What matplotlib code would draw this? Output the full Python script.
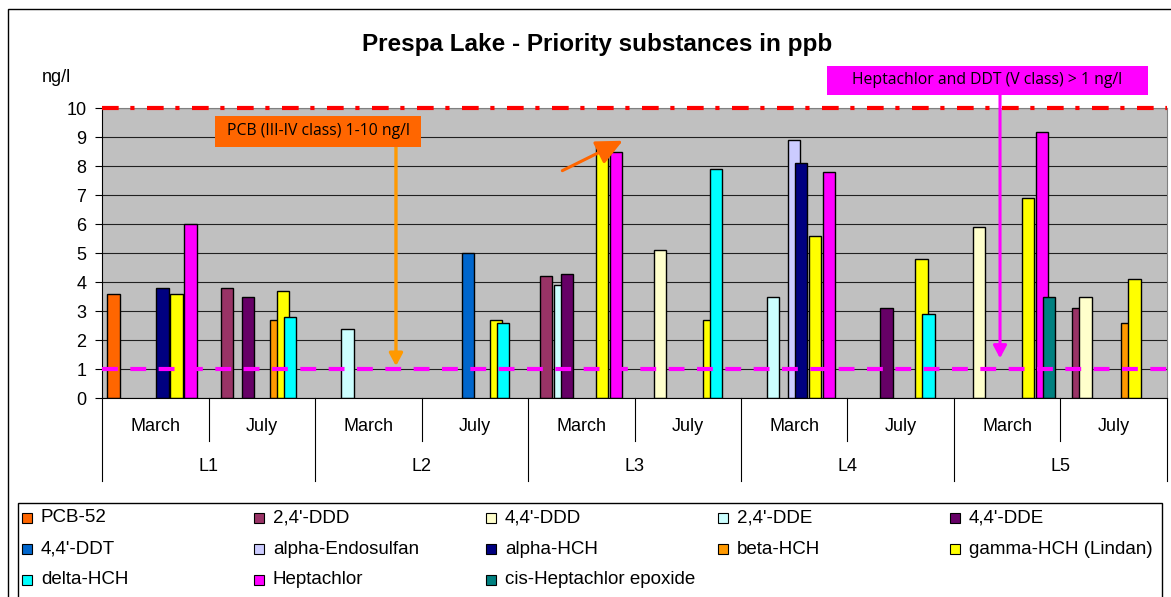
import numpy as np
import matplotlib
matplotlib.use('Agg')
import matplotlib.pyplot as plt
from matplotlib.patches import Rectangle

plt.rcParams['font.family'] = ['Liberation Sans', 'DejaVu Sans']

# figure size in pixels
W, H = 1171, 597

# categories
months = ['March', 'July'] * 5
sites = ['L1', 'L2', 'L3', 'L4', 'L5']

substances = ['PCB-52', "2,4'-DDD", "4,4'-DDD", "2,4'-DDE", "4,4'-DDE",
              "4,4'-DDT", 'alpha-Endosulfan', 'alpha-HCH', 'beta-HCH',
              'gamma-HCH (Lindan)', 'delta-HCH', 'Heptachlor',
              'cis-Heptachlor epoxide']
colors = ['#FF6600', '#993366', '#FFFFCC', '#CCFFFF', '#660066',
          '#0066CC', '#CCCCFF', '#000080', '#FF9900',
          '#FFFF00', '#00FFFF', '#FF00FF', '#008080']

# values in ng/l, 0 = not detected
#           L1M  L1J  L2M  L2J  L3M  L3J  L4M  L4J  L5M  L5J
pcb52     = [3.6, 0,   0,   0,   0,   0,   0,   0,   0,   0]
ddd24     = [0,   3.8, 0,   0,   4.2, 0,   0,   0,   0,   3.1]
ddd44     = [0,   0,   0,   0,   0,   5.1, 0,   0,   5.9, 3.5]
dde24     = [0,   0,   2.4, 0,   3.9, 0,   3.5, 0,   0,   0]
dde44     = [0,   3.5, 0,   0,   4.3, 0,   0,   3.1, 0,   0]
ddt44     = [0,   0,   0,   5.0, 0,   0,   0,   0,   0,   0]
endosulf  = [0,   0,   0,   0,   0,   0,   8.9, 0,   0,   0]
hch_alpha = [3.8, 0,   0,   0,   0,   0,   8.1, 0,   0,   0]
hch_beta  = [0,   2.7, 0,   0,   0,   0,   0,   0,   0,   2.6]
hch_gamma = [3.6, 3.7, 0,   2.7, 8.8, 2.7, 5.6, 4.8, 6.9, 4.1]
hch_delta = [0,   2.8, 0,   2.6, 0,   7.9, 0,   2.9, 0,   0]
heptachl  = [6.0, 0,   0,   0,   8.5, 0,   7.8, 0,   9.2, 0]
hept_epox = [0,   0,   0,   0,   0,   0,   0,   0,   3.5, 0]

values = [pcb52, ddd24, ddd44, dde24, dde44, ddt44, endosulf, hch_alpha,
          hch_beta, hch_gamma, hch_delta, heptachl, hept_epox]

# limits
pcb_limit = 10
ddt_limit = 1


def fx(px):
    return px / W


def fy(py):
    return 1 - py / H


def box(x0, y0, x1, y1, col):
    # filled rectangle given in pixel coords
    fig.add_artist(Rectangle((fx(x0), fy(y1)), fx(x1) - fx(x0), fy(y0) - fy(y1),
                             transform=fig.transFigure, fc=col, ec='none', zorder=6))


fig = plt.figure(figsize=(W / 100, H / 100), dpi=100)
ax = fig.add_axes([fx(102.3), fy(398.3), fx(1166.7) - fx(102.3), fy(108.3) - fy(398.3)])
ax.set_facecolor('#C0C0C0')

# bars, overlapping like excel
step = 0.0658
width = 0.115
x = np.arange(len(months))
for i, (name, col, vals) in enumerate(zip(substances, colors, values)):
    v = np.array(vals, dtype=float)
    m = v > 0
    ax.bar(x[m] + (i - 6) * step, v[m], width=width, color=col,
           edgecolor='black', linewidth=1.0, zorder=2)

ax.set_xlim(-0.5, 9.5)
ax.set_ylim(0, 10)
ax.set_yticks(range(0, 11))
ax.tick_params(axis='y', length=5, width=0.8, pad=6.5, labelsize=13)
ax.set_xticks([])
ax.grid(axis='y', color='#202020', lw=0.8)
ax.set_axisbelow(True)
for s in ['top', 'right']:
    ax.spines[s].set_color('#808080')
for s in ['left', 'bottom']:
    ax.spines[s].set_color('black')

# threshold lines
ax.axhline(pcb_limit, color='red', lw=3, ls=(0, (4, 2.8, 1, 3)), zorder=4, clip_on=False)
ax.axhline(ddt_limit, color='#FF00FF', lw=3, ls=(0, (3.8, 3.0)), zorder=4)

# two level category axis
tr = ax.get_xaxis_transform()
for i, mth in enumerate(months):
    ax.text(i, -0.098, mth, transform=tr, ha='center', va='center', fontsize=13)
for j, s in enumerate(sites):
    ax.text(2 * j + 0.5, -0.236, s, transform=tr, ha='center', va='center', fontsize=13)
for k, b in enumerate(np.arange(-0.5, 10, 1)):
    depth = -0.285 if k % 2 == 0 else -0.146
    ax.plot([b, b], [0, depth], transform=tr, color='black', lw=0.8, clip_on=False)

# annotations
box(215, 116, 421, 147, '#FF6600')
fig.text(fx(318), fy(131.5), 'PCB (III-IV class) 1-10 ng/l', ha='center', va='center',
         fontsize=11.3, family='Open Sans', zorder=7)
ax.annotate('', xy=(2.259, 1.11), xytext=(2.259, 8.67),
            arrowprops=dict(arrowstyle='-|>,head_width=0.4,head_length=0.75',
                            color='#FF9900', lw=2.4, shrinkA=0, shrinkB=0), zorder=5)
ax.annotate('', xy=(4.389, 8.88), xytext=(3.822, 7.85),
            arrowprops=dict(arrowstyle='-|>,head_width=0.75,head_length=1.6',
                            color='#FF6600', lw=2.2, shrinkA=0, shrinkB=0), zorder=5)
box(827, 66, 1148, 94.5, '#FF00FF')
fig.text(fx(987.5), fy(80.5), 'Heptachlor and DDT (V class) > 1 ng/l', ha='center',
         va='center', fontsize=11.3, family='Open Sans', zorder=7)
ax.annotate('', xy=(7.934, 1.38), xytext=(7.934, 10.48), annotation_clip=False,
            arrowprops=dict(arrowstyle='-|>,head_width=0.4,head_length=0.75',
                            color='#FF00FF', lw=2.2, shrinkA=0, shrinkB=0), zorder=5)

# title and unit
fig.text(fx(597), fy(44), 'Prespa Lake - Priority substances in ppb', ha='center',
         va='center', fontsize=17.5, weight='bold')
fig.text(fx(56), fy(78), 'ng/l', ha='center', va='center', fontsize=13)

# outer chart border and legend frame
fig.add_artist(Rectangle((fx(7.5), -0.1), 1.2, fy(9.3) + 0.1, transform=fig.transFigure,
                         fill=False, ec='black', lw=1))
fig.add_artist(Rectangle((fx(18), -0.1), fx(1162) - fx(18), fy(503) + 0.1,
                         transform=fig.transFigure, fill=False, ec='black', lw=1))

# legend, row-wise like excel
for k, (name, col) in enumerate(zip(substances, colors)):
    r, c = divmod(k, 5)
    px = 22 + 232 * c
    py = 518 + 31 * r
    fig.add_artist(Rectangle((fx(px), fy(py + 5)), fx(10), fy(0) - fy(10),
                             transform=fig.transFigure, fc=col, ec='black', lw=0.8))
    fig.text(fx(px + 19), fy(py), name, ha='left', va='center', fontsize=13.5)

fig.savefig('out.png', dpi=100)
